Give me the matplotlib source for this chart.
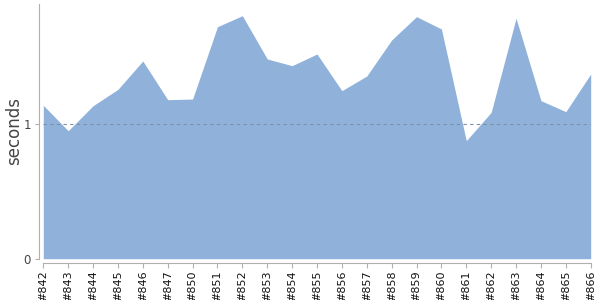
import matplotlib
matplotlib.use("Agg")
import matplotlib.pyplot as plt

builds = ["#842", "#843", "#844", "#845", "#846", "#847", "#850", "#851", "#852",
          "#853", "#854", "#855", "#856", "#857", "#858", "#859", "#860", "#861",
          "#862", "#863", "#864", "#865", "#866"]
seconds = [1.141, 0.952, 1.138, 1.260, 1.471, 1.183, 1.188, 1.726, 1.808,
           1.486, 1.436, 1.523, 1.250, 1.359, 1.627, 1.801, 1.709, 0.878,
           1.089, 1.789, 1.176, 1.094, 1.374]
y_ticks = [0, 1]

fig = plt.figure(figsize=(6, 3), dpi=100)
ax = fig.add_axes([43.3 / 600, (300 - 258.7) / 300, (590.7 - 43.3) / 600, (258.7 - 4) / 300])

x = list(range(len(builds)))
ax.fill_between(x, seconds, 0, color="#8fb1da", linewidth=0)
ax.axhline(1, color="#7f8fa6", linestyle=(0, (3, 3)), linewidth=0.8, zorder=3)

ax.set_xlim(0, len(builds) - 1)
ax.set_ylim(0, 1.895)
ax.set_xticks(x, builds)
ax.set_yticks(y_ticks, [str(v) for v in y_ticks])

for s in ["top", "right"]:
    ax.spines[s].set_visible(False)
ax.spines["left"].set_position(("outward", 3))
ax.spines["bottom"].set_position(("outward", 3))
ax.spines["left"].set_color("#b0b0b0")
ax.spines["bottom"].set_color("#b0b0b0")
ax.tick_params(axis="x", length=3.5, color="#b0b0b0", pad=2, labelsize=8,
               labelcolor="#111111", labelrotation=90)
ax.tick_params(axis="y", length=3, color="#b0b0b0", pad=3, labelsize=8.5,
               labelcolor="#444444")

ax.set_ylabel("seconds", fontsize=12, color="#444444", labelpad=0)

fig.savefig("out.png", dpi=100)
